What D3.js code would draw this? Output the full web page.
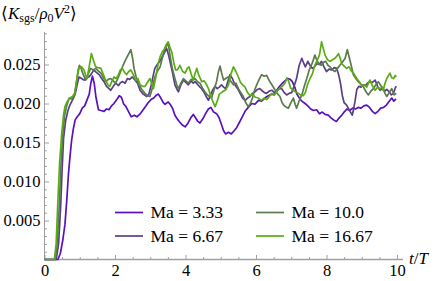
<!DOCTYPE html>
<html>
<head>
<meta charset="utf-8">
<script src="https://cdn.jsdelivr.net/npm/d3@7"></script>
<style>
  body { margin: 0; background: #fff; }
</style>
</head>
<body>
<svg id="chart"></svg>
<script>
// [t/T, <K_sgs / rho0 V^2>]
var ma333 = [[0,0],[0.38,0],[0.45,0.0008],[0.52,0.0025],[0.58,0.0045],[0.63,0.0075],[0.68,0.011],[0.73,0.0135],[0.77,0.0153],[0.82,0.0168],[0.87,0.0179],[0.93,0.0183],[1.0,0.0187],[1.07,0.0194],[1.14,0.0197],[1.21,0.0205],[1.27,0.0212],[1.31,0.0225],[1.36,0.0235],[1.41,0.0226],[1.46,0.0208],[1.53,0.0192],[1.6,0.0191],[1.69,0.019],[1.76,0.0193],[1.83,0.0192],[1.9,0.0197],[1.97,0.02],[2.05,0.0205],[2.12,0.021],[2.18,0.0208],[2.25,0.0199],[2.3,0.0197],[2.38,0.019],[2.46,0.0183],[2.55,0.0185],[2.62,0.0183],[2.7,0.0186],[2.8,0.0192],[2.88,0.0197],[2.94,0.0201],[3.02,0.0205],[3.1,0.0207],[3.18,0.0211],[3.23,0.0212],[3.3,0.0207],[3.37,0.0201],[3.42,0.0199],[3.51,0.0202],[3.58,0.0198],[3.64,0.0193],[3.7,0.0185],[3.77,0.018],[3.84,0.0176],[3.92,0.0172],[3.99,0.017],[4.06,0.0174],[4.14,0.0181],[4.22,0.0186],[4.28,0.0182],[4.35,0.0177],[4.41,0.0175],[4.5,0.0181],[4.58,0.0188],[4.65,0.0193],[4.72,0.0195],[4.8,0.0189],[4.88,0.0187],[4.95,0.0182],[5.02,0.0173],[5.08,0.0165],[5.14,0.0161],[5.22,0.0163],[5.3,0.0161],[5.38,0.0165],[5.45,0.0169],[5.52,0.0175],[5.6,0.0182],[5.69,0.019],[5.78,0.0195],[5.88,0.02],[5.97,0.0199],[6.07,0.0204],[6.16,0.0203],[6.25,0.0207],[6.35,0.021],[6.45,0.0212],[6.52,0.0211],[6.59,0.0217],[6.67,0.0222],[6.75,0.0226],[6.82,0.0229],[6.9,0.0232],[6.97,0.0231],[7.03,0.0228],[7.1,0.0221],[7.16,0.0212],[7.23,0.0207],[7.3,0.0203],[7.39,0.02],[7.47,0.0197],[7.55,0.0193],[7.63,0.0191],[7.72,0.0192],[7.8,0.0187],[7.88,0.0189],[7.96,0.0186],[8.05,0.0185],[8.12,0.0182],[8.2,0.0179],[8.28,0.0177],[8.35,0.0181],[8.43,0.0185],[8.5,0.0189],[8.58,0.0193],[8.66,0.0191],[8.74,0.0194],[8.82,0.0193],[8.9,0.0195],[8.98,0.0194],[9.06,0.0197],[9.14,0.0198],[9.22,0.0195],[9.3,0.019],[9.38,0.0187],[9.46,0.019],[9.54,0.0194],[9.62,0.0195],[9.7,0.0198],[9.78,0.0203],[9.85,0.0207],[9.91,0.0203],[9.97,0.0206]];

var ma667 = [[0,0],[0.33,0],[0.4,0.002],[0.46,0.007],[0.5,0.0115],[0.54,0.0155],[0.6,0.0178],[0.66,0.019],[0.72,0.0198],[0.8,0.0205],[0.87,0.0212],[0.93,0.0225],[0.98,0.0234],[1.05,0.0232],[1.12,0.023],[1.19,0.0233],[1.26,0.0234],[1.33,0.0238],[1.4,0.0243],[1.47,0.024],[1.55,0.0237],[1.62,0.0232],[1.69,0.0228],[1.76,0.0222],[1.83,0.0219],[1.88,0.0217],[1.95,0.0222],[2.02,0.0226],[2.1,0.0223],[2.16,0.0227],[2.22,0.0228],[2.29,0.0226],[2.35,0.0232],[2.42,0.0231],[2.49,0.0234],[2.57,0.023],[2.64,0.0226],[2.71,0.0217],[2.8,0.0212],[2.9,0.0209],[2.96,0.0212],[3.02,0.0222],[3.08,0.0235],[3.13,0.0245],[3.2,0.025],[3.27,0.0254],[3.32,0.0258],[3.39,0.0264],[3.46,0.0271],[3.52,0.0262],[3.58,0.025],[3.63,0.024],[3.7,0.0224],[3.76,0.0218],[3.8,0.0215],[3.87,0.0224],[3.94,0.023],[4.01,0.0227],[4.08,0.0224],[4.16,0.0229],[4.22,0.0226],[4.27,0.0228],[4.35,0.0224],[4.41,0.0221],[4.46,0.0219],[4.53,0.0214],[4.6,0.0208],[4.65,0.0204],[4.72,0.0212],[4.78,0.0218],[4.84,0.0222],[4.9,0.0219],[4.96,0.0221],[5.02,0.0224],[5.08,0.0221],[5.14,0.0219],[5.2,0.0228],[5.26,0.0237],[5.33,0.0232],[5.4,0.0224],[5.48,0.0219],[5.55,0.0213],[5.62,0.0207],[5.69,0.0204],[5.76,0.0207],[5.83,0.0209],[5.9,0.0213],[5.97,0.0215],[6.04,0.0218],[6.11,0.0219],[6.18,0.0216],[6.24,0.0214],[6.3,0.0213],[6.38,0.0216],[6.45,0.0217],[6.52,0.0214],[6.59,0.0216],[6.66,0.0219],[6.73,0.0219],[6.8,0.0214],[6.87,0.0211],[6.94,0.0213],[7.01,0.0214],[7.08,0.0222],[7.15,0.0232],[7.22,0.0248],[7.3,0.0258],[7.35,0.0252],[7.4,0.0247],[7.47,0.0254],[7.53,0.0249],[7.6,0.0245],[7.66,0.0247],[7.72,0.0251],[7.79,0.025],[7.86,0.0254],[7.93,0.0247],[8.0,0.0241],[8.07,0.0244],[8.15,0.0243],[8.22,0.0246],[8.29,0.0245],[8.35,0.0236],[8.4,0.0225],[8.45,0.021],[8.5,0.0201],[8.57,0.0198],[8.63,0.0193],[8.68,0.0189],[8.73,0.0185],[8.77,0.0193],[8.81,0.0203],[8.86,0.0218],[8.92,0.0222],[8.98,0.0221],[9.04,0.0224],[9.1,0.0223],[9.16,0.0226],[9.23,0.0228],[9.3,0.0227],[9.38,0.023],[9.45,0.0222],[9.52,0.0217],[9.58,0.0219],[9.65,0.0216],[9.71,0.0218],[9.78,0.0215],[9.84,0.0211],[9.9,0.0213],[9.95,0.022],[9.98,0.0222]];

var ma100 = [[0,0],[0.3,0],[0.36,0.002],[0.42,0.007],[0.47,0.0125],[0.52,0.016],[0.57,0.0185],[0.63,0.0197],[0.7,0.0207],[0.77,0.0206],[0.84,0.0209],[0.9,0.0225],[0.95,0.0242],[0.99,0.0249],[1.04,0.0245],[1.1,0.0237],[1.17,0.023],[1.24,0.0238],[1.31,0.0245],[1.38,0.0243],[1.45,0.0245],[1.52,0.0242],[1.6,0.0239],[1.67,0.0233],[1.74,0.0228],[1.81,0.0231],[1.88,0.0232],[1.95,0.0229],[2.02,0.0226],[2.09,0.0233],[2.16,0.0241],[2.23,0.0249],[2.3,0.0256],[2.37,0.0262],[2.45,0.0269],[2.5,0.0258],[2.54,0.0245],[2.6,0.0234],[2.68,0.0224],[2.76,0.0218],[2.85,0.0213],[2.92,0.021],[2.99,0.0209],[3.06,0.022],[3.13,0.0234],[3.2,0.0241],[3.28,0.0247],[3.35,0.026],[3.42,0.0271],[3.51,0.0277],[3.56,0.0262],[3.62,0.0246],[3.7,0.0232],[3.75,0.0224],[3.8,0.0219],[3.87,0.0226],[3.94,0.0232],[4.01,0.0229],[4.08,0.0226],[4.16,0.0231],[4.22,0.023],[4.27,0.0232],[4.34,0.0228],[4.41,0.0226],[4.48,0.022],[4.55,0.0215],[4.62,0.0211],[4.68,0.0209],[4.74,0.0207],[4.8,0.0216],[4.88,0.0228],[4.93,0.024],[4.98,0.0248],[5.03,0.0238],[5.08,0.023],[5.14,0.0232],[5.21,0.0234],[5.28,0.0229],[5.36,0.0224],[5.43,0.0226],[5.5,0.0219],[5.57,0.0214],[5.64,0.0209],[5.71,0.0201],[5.78,0.0196],[5.84,0.02],[5.9,0.0207],[5.96,0.0217],[6.02,0.0224],[6.09,0.0231],[6.16,0.0237],[6.23,0.0235],[6.3,0.0236],[6.38,0.0229],[6.45,0.0224],[6.52,0.0219],[6.6,0.0213],[6.68,0.0209],[6.74,0.0201],[6.8,0.0197],[6.87,0.0195],[6.92,0.0194],[6.99,0.0201],[7.06,0.0207],[7.11,0.0199],[7.15,0.0194],[7.22,0.0203],[7.3,0.0211],[7.37,0.0222],[7.44,0.0232],[7.51,0.0243],[7.59,0.0251],[7.67,0.0262],[7.72,0.0256],[7.78,0.0251],[7.85,0.0249],[7.92,0.0253],[7.98,0.0254],[8.04,0.0249],[8.1,0.0247],[8.17,0.0243],[8.24,0.0241],[8.31,0.0245],[8.38,0.0249],[8.45,0.0253],[8.53,0.0258],[8.59,0.0269],[8.64,0.026],[8.69,0.0251],[8.76,0.0237],[8.83,0.0232],[8.9,0.0228],[8.97,0.0225],[9.04,0.0222],[9.12,0.0215],[9.19,0.0211],[9.26,0.0216],[9.33,0.0219],[9.4,0.0224],[9.47,0.0228],[9.54,0.0223],[9.61,0.0219],[9.66,0.0213],[9.71,0.0209],[9.78,0.0214],[9.85,0.0219],[9.92,0.0211],[9.98,0.0213]];

var ma1667 = [[0,0],[0.28,0],[0.33,0.002],[0.38,0.0075],[0.43,0.0125],[0.49,0.0162],[0.54,0.0185],[0.58,0.0196],[0.65,0.0203],[0.72,0.0207],[0.79,0.0209],[0.86,0.0213],[0.92,0.0232],[0.98,0.0245],[1.05,0.0247],[1.12,0.0243],[1.17,0.0236],[1.21,0.0232],[1.27,0.0248],[1.33,0.0264],[1.39,0.0255],[1.45,0.0247],[1.52,0.0246],[1.6,0.0245],[1.67,0.0237],[1.74,0.0229],[1.8,0.0224],[1.85,0.0222],[1.91,0.0228],[1.97,0.0234],[2.03,0.0232],[2.09,0.0236],[2.15,0.0243],[2.21,0.0245],[2.27,0.024],[2.33,0.0237],[2.39,0.0241],[2.45,0.0243],[2.52,0.0237],[2.59,0.023],[2.65,0.0232],[2.71,0.0224],[2.78,0.0222],[2.85,0.0222],[2.92,0.0227],[2.99,0.0232],[3.04,0.0226],[3.09,0.0219],[3.15,0.0232],[3.22,0.025],[3.28,0.026],[3.34,0.0266],[3.4,0.027],[3.46,0.0276],[3.51,0.0279],[3.56,0.0272],[3.61,0.0266],[3.67,0.0252],[3.72,0.0243],[3.77,0.0243],[3.84,0.0249],[3.92,0.0241],[3.99,0.0239],[4.05,0.0245],[4.1,0.0247],[4.16,0.0238],[4.22,0.023],[4.27,0.0238],[4.32,0.0245],[4.38,0.0236],[4.46,0.0228],[4.53,0.0229],[4.6,0.0224],[4.66,0.0218],[4.72,0.0209],[4.78,0.0202],[4.84,0.0196],[4.9,0.0203],[4.96,0.0212],[5.02,0.0214],[5.08,0.0216],[5.15,0.0218],[5.22,0.0224],[5.29,0.0238],[5.36,0.0247],[5.43,0.0241],[5.5,0.0234],[5.56,0.0227],[5.62,0.0224],[5.69,0.0221],[5.76,0.0214],[5.83,0.021],[5.9,0.0212],[5.98,0.0208],[6.07,0.0207],[6.15,0.0204],[6.23,0.0207],[6.3,0.0205],[6.38,0.0209],[6.45,0.0213],[6.52,0.0211],[6.6,0.0216],[6.68,0.022],[6.75,0.0222],[6.82,0.0226],[6.88,0.0233],[6.93,0.0228],[6.98,0.022],[7.05,0.0217],[7.12,0.0215],[7.2,0.0213],[7.27,0.0211],[7.34,0.021],[7.4,0.0214],[7.46,0.0224],[7.53,0.0232],[7.6,0.0238],[7.67,0.0249],[7.74,0.0256],[7.8,0.0262],[7.86,0.0279],[7.9,0.0272],[7.96,0.0262],[8.03,0.0256],[8.1,0.0254],[8.17,0.0256],[8.24,0.0258],[8.3,0.0261],[8.34,0.0264],[8.39,0.0258],[8.43,0.0251],[8.5,0.0248],[8.57,0.0245],[8.64,0.0247],[8.7,0.0242],[8.78,0.0238],[8.86,0.0232],[8.93,0.0228],[9.0,0.0222],[9.07,0.0224],[9.14,0.0221],[9.19,0.0226],[9.23,0.023],[9.3,0.0223],[9.38,0.0217],[9.45,0.0221],[9.52,0.0219],[9.58,0.0221],[9.61,0.0217],[9.66,0.0226],[9.71,0.0232],[9.76,0.0236],[9.8,0.0239],[9.85,0.0233],[9.9,0.0232],[9.95,0.0236],[9.98,0.0234]];

var seriesNames = ["Ma = 3.33", "Ma = 6.67", "Ma = 10.0", "Ma = 16.67"];
var seriesData = [ma333, ma667, ma100, ma1667];
var seriesColors = ["#5a10c0", "#5a3f88", "#5b7b4e", "#5aab14"];

var xTicks = [0, 2, 4, 6, 8, 10];
var yTicks = [0.005, 0.010, 0.015, 0.020, 0.025];

var fontSerif = "'Liberation Serif'";
var W = 436, H = 281;
var svg = d3.select("#chart").attr("width", W).attr("height", H)
  .attr("font-family", "Liberation Serif");

var x = d3.scaleLinear().domain([0, 10]).range([44.5, 397]);
var y = d3.scaleLinear().domain([0, 0.029]).range([259.5, 33.3]);

var axisColor = "#a0a0a0";

// minor ticks
svg.append("g")
  .attr("transform", "translate(0," + y(0) + ")")
  .call(d3.axisBottom(x).tickValues(d3.range(0.5, 10.01, 0.5).filter(function(d) { return d % 2 != 0; }))
    .tickSize(-2.5).tickFormat(""))
  .call(function(g) { g.select(".domain").remove(); g.selectAll("text").remove(); })
  .selectAll("line").attr("stroke", axisColor);

svg.append("g")
  .attr("transform", "translate(" + x(0) + ",0)")
  .call(d3.axisLeft(y).tickValues(d3.range(0.001, 0.0291, 0.001).filter(function(d) { return Math.round(d * 1000) % 5 != 0; }))
    .tickSize(-2.5).tickFormat(""))
  .call(function(g) { g.select(".domain").remove(); g.selectAll("text").remove(); })
  .selectAll("line").attr("stroke", axisColor);

// major x axis
var gx = svg.append("g")
  .attr("transform", "translate(0," + y(0) + ")")
  .call(d3.axisBottom(x).tickValues(xTicks).tickSize(-4.5).tickSizeOuter(0).tickPadding(5)
    .tickFormat(d3.format("d")));
gx.attr("font-family", "Liberation Serif").attr("font-size", 16.5);
gx.select(".domain").remove();
gx.selectAll("line").attr("stroke", axisColor);
gx.selectAll("text").attr("fill", "#000").style("font-family", fontSerif);

// major y axis
var gy = svg.append("g")
  .attr("transform", "translate(" + x(0) + ",0)")
  .call(d3.axisLeft(y).tickValues(yTicks).tickSize(-4.5).tickSizeOuter(0).tickPadding(4)
    .tickFormat(d3.format(".3f")));
gy.attr("font-family", "Liberation Serif").attr("font-size", 16.5);
gy.select(".domain").remove();
gy.selectAll("line").attr("stroke", axisColor);
gy.selectAll("text").attr("fill", "#000").style("font-family", fontSerif);

// axis lines
svg.append("line")
  .attr("x1", x(0)).attr("x2", 403).attr("y1", y(0)).attr("y2", y(0))
  .attr("stroke", axisColor).attr("stroke-width", 1.6);
svg.append("line")
  .attr("x1", x(0)).attr("x2", x(0)).attr("y1", y(0)).attr("y2", 32)
  .attr("stroke", axisColor).attr("stroke-width", 1);

// curves
var line = d3.line()
  .x(function(d) { return x(d[0]); })
  .y(function(d) { return y(d[1]); });

svg.selectAll("path.series")
  .data(seriesData)
  .enter()
  .append("path")
  .attr("class", "series")
  .attr("d", line)
  .attr("fill", "none")
  .attr("stroke", function(d, i) { return seriesColors[i]; })
  .attr("stroke-width", 1.7)
  .attr("stroke-linejoin", "round");

// legend
var legend = svg.selectAll("g.legend")
  .data(seriesNames)
  .enter()
  .append("g")
  .attr("class", "legend")
  .attr("transform", function(d, i) {
    var col = i < 2 ? 0 : 1, row = i % 2;
    return "translate(" + (115 + col * 141) + "," + (212.5 + row * 23.5) + ")";
  });
legend.append("line")
  .attr("x1", 0).attr("x2", 28).attr("y1", 0).attr("y2", 0)
  .attr("stroke", function(d, i) { return seriesColors[i]; })
  .attr("stroke-width", 1.7);
legend.append("text")
  .attr("x", 35.5).attr("y", 5.5)
  .attr("font-size", 17.5)
  .attr("font-family", "Liberation Serif")
  .style("font-family", fontSerif)
  .text(function(d) { return d; });

// axis labels
svg.append("text")
  .attr("x", 409).attr("y", 264)
  .attr("font-size", 17)
  .attr("font-family", "Liberation Serif")
  .style("font-family", fontSerif)
  .html('<tspan font-style="italic">t</tspan>/<tspan font-style="italic">T</tspan>');

svg.append("text")
  .attr("x", 1).attr("y", 19)
  .attr("font-size", 17)
  .attr("font-family", "Liberation Serif")
  .style("font-family", fontSerif)
  .html('\u27E8<tspan font-style="italic">K</tspan><tspan font-size="12" dy="3">sgs</tspan><tspan dy="-3">/</tspan><tspan font-style="italic">\u03C1</tspan><tspan font-size="12" dy="3">0</tspan><tspan font-style="italic" dy="-3">V</tspan><tspan font-size="12" dy="-6">2</tspan><tspan dy="6">\u27E9</tspan>');
</script>
</body>
</html>
